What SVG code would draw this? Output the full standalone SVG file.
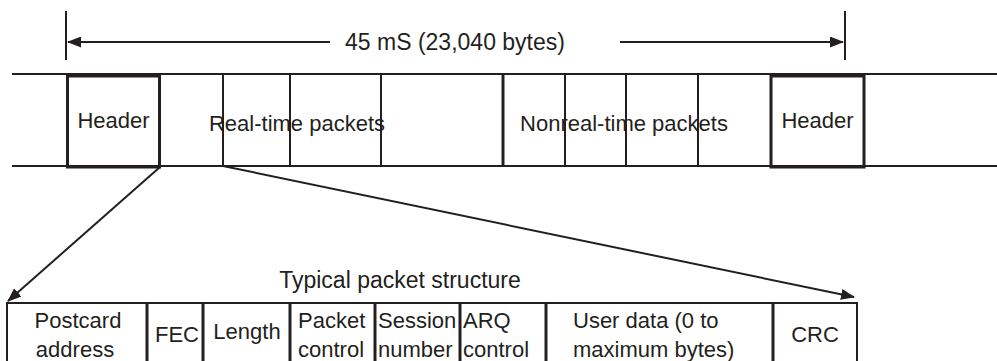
<svg xmlns="http://www.w3.org/2000/svg" width="997" height="361" viewBox="0 0 997 361">
<defs>
<marker id="ah" markerWidth="14" markerHeight="11" refX="13" refY="5.5" orient="auto" markerUnits="userSpaceOnUse">
<path d="M0,0 L14,5.5 L0,11 Z" fill="#231f20"/>
</marker>
<style>
text{font-family:"Liberation Sans",Arial,sans-serif;font-size:22px;fill:#231f20}
.m{text-anchor:middle}
.big{font-size:23px}
.thin{stroke:#231f20;stroke-width:2;fill:none}
.thick{stroke:#231f20;stroke-width:3;fill:none}
.conn{stroke:#231f20;stroke-width:2;fill:none}
</style>
</defs>
<rect width="997" height="361" fill="#fff"/>
<g id="dimension">
<line class="thin" x1="66" y1="11" x2="66" y2="60"/>
<line class="thin" x1="845" y1="11" x2="845" y2="60"/>
<line class="conn" x1="330" y1="42" x2="68" y2="42" marker-end="url(#ah)"/>
<line class="conn" x1="620" y1="42" x2="843" y2="42" marker-end="url(#ah)"/>
<text class="m big" x="455" y="50">45 mS (23,040 bytes)</text>
</g>
<g id="frame">
<line class="thin" x1="12" y1="74" x2="997" y2="74"/>
<line class="thin" x1="12" y1="166" x2="997" y2="166"/>
<line class="thin" x1="223" y1="74" x2="223" y2="166"/>
<line class="thin" x1="290" y1="74" x2="290" y2="166"/>
<line class="thin" x1="381" y1="74" x2="381" y2="166"/>
<line class="thick" x1="503" y1="74" x2="503" y2="166"/>
<line class="thin" x1="565" y1="74" x2="565" y2="166"/>
<line class="thin" x1="626" y1="74" x2="626" y2="166"/>
<line class="thin" x1="698" y1="74" x2="698" y2="166"/>
</g>
<g id="header1">
<rect class="thick" x="67.5" y="76" width="92" height="91"/>
<text class="m" x="113.5" y="128">Header</text>
</g>
<g id="realtime">
<text class="m" x="297" y="131">Real-time packets</text>
</g>
<g id="nonrealtime">
<text class="m" x="624" y="131">Nonreal-time packets</text>
</g>
<g id="header2">
<rect class="thick" x="771" y="76" width="93" height="91"/>
<text class="m" x="817.5" y="128">Header</text>
</g>
<g id="connectors">
<line class="conn" x1="160" y1="167" x2="8" y2="301" marker-end="url(#ah)"/>
<line class="conn" x1="223" y1="166" x2="854" y2="297" marker-end="url(#ah)"/>
</g>
<g id="packet">
<text class="m big" x="400" y="288">Typical packet structure</text>
<path class="thin" d="M7,363 V303 H857 V363"/>
<line class="thick" x1="147" y1="303" x2="147" y2="361"/>
<line class="thick" x1="203" y1="303" x2="203" y2="361"/>
<line class="thick" x1="290" y1="303" x2="290" y2="361"/>
<line class="thick" x1="375" y1="303" x2="375" y2="361"/>
<line class="thick" x1="460" y1="303" x2="460" y2="361"/>
<line class="thick" x1="546" y1="303" x2="546" y2="361"/>
<line class="thick" x1="773" y1="303" x2="773" y2="361"/>
<text class="m" x="78" y="328">Postcard</text>
<text class="m" x="75" y="357">address</text>
<text class="m" x="177" y="342">FEC</text>
<text class="m" x="247" y="339">Length</text>
<text x="298" y="328">Packet</text>
<text x="298" y="357">control</text>
<text x="378" y="328">Session</text>
<text x="378" y="357">number</text>
<text x="463" y="328">ARQ</text>
<text x="463" y="357">control</text>
<text x="573" y="328">User data (0 to</text>
<text x="573" y="357">maximum bytes)</text>
<text class="m" x="815" y="342">CRC</text>
</g>
</svg>
